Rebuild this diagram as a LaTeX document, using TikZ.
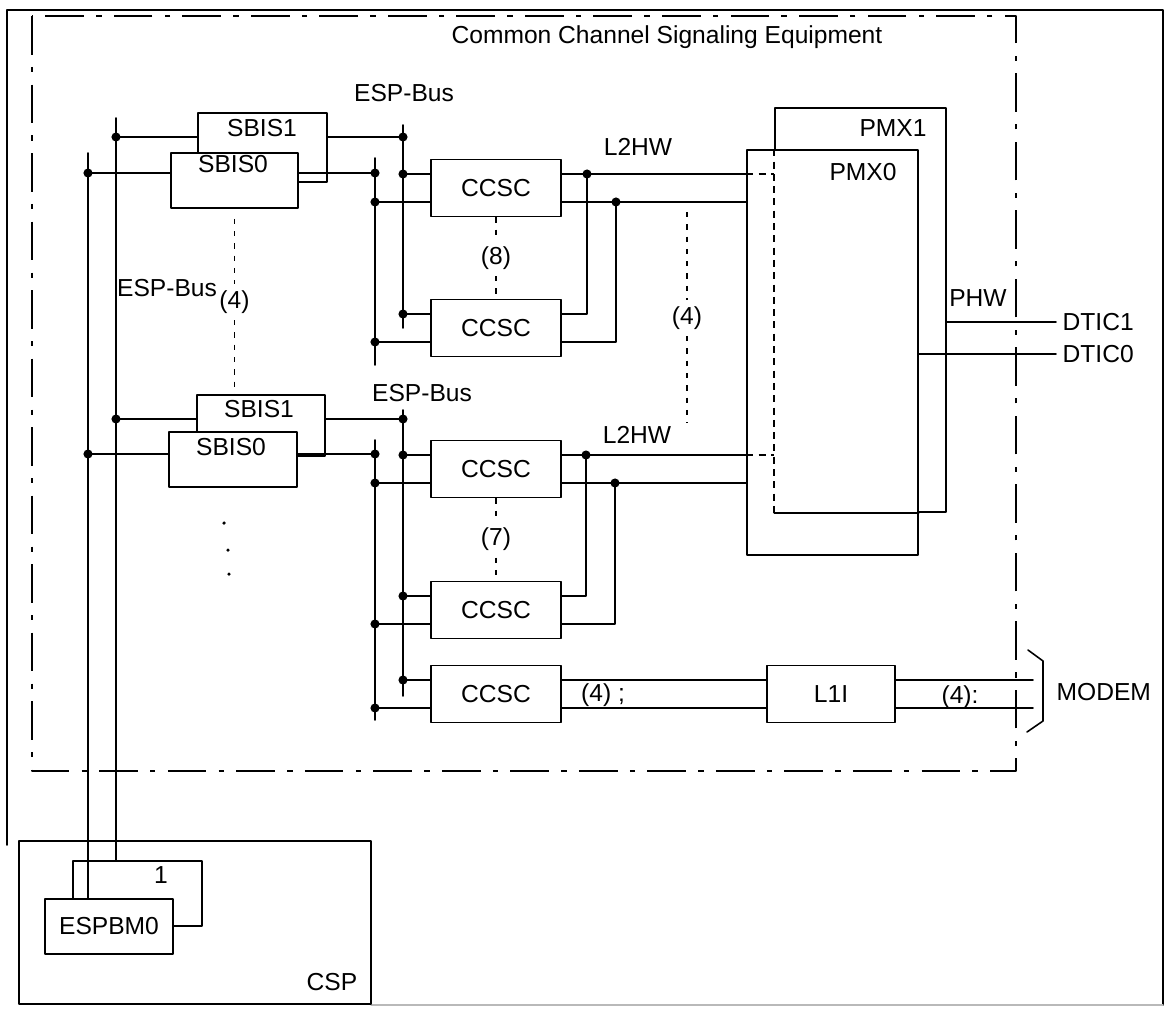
\documentclass[tikz,border=0pt]{standalone}
\usepackage{fontspec}
\setmainfont{Liberation Sans}
\usetikzlibrary{calc}

\begin{document}
\begin{tikzpicture}[x=0.02cm, y=-0.02cm, line width=0.9pt, line cap=round, line join=round,
    font=\fontsize{14}{16}\selectfont,
    blk/.style={draw, fill=white, inner sep=0pt},
    ccsc/.style={blk, minimum width=2.6cm, minimum height=1.14cm},
    dashdot/.style={line cap=butt, dash pattern=on 22pt off 7pt on 3pt off 7pt},
    dots/.style={line cap=butt, line width=1pt, dash pattern=on 3pt off 4pt},
    hidden/.style={line cap=butt, dash pattern=on 4pt off 3pt}]

\useasboundingbox (0,0) rectangle (1170,1008);
\def\r{2.6pt}
\def\io{0.28cm}

% Cornice esterna
\draw (7,845) -- (7,10) -- (1163,10) -- (1163,1005);
\draw[gray!55, line width=0.6pt] (1163,1005) -- (371,1005);

% Common Channel Signaling Equipment
\draw[dashdot] (32,16) rectangle (1016,771);
\node (title) at (667,37) {Common Channel Signaling Equipment};

% PMX1 dietro a PMX0
\node[blk, minimum width=3.42cm, minimum height=8.08cm] (pmx1) at (860.5,310) {};
\node[blk, minimum width=3.42cm, minimum height=8.1cm] (pmx0) at (832.5,352.5) {};
\draw[hidden] (pmx1.west |- pmx0.north) -- (pmx1.south west);
\draw (pmx1.south west) -- (pmx1.south west -| pmx0.east);
\node (tpmx1) at (893,128) {PMX1};
\node (tpmx0) at (863,172) {PMX0};

% PHW verso DTIC
\node (phw) at (978,298) {PHW};
\node[anchor=west] (dtic1) at (1056,322) {DTIC1};
\node[anchor=west] (dtic0) at (1056,354) {DTIC0};
\draw (dtic1.west -| pmx1.east) -- (dtic1.west);
\draw (dtic0.west -| pmx0.east) -- (dtic0.west);

% SBIS
\node[blk, minimum width=2.58cm, minimum height=1.38cm] (sbis1a) at (262.5,147.5) {};
\node[blk, minimum width=2.54cm, minimum height=1.1cm] (sbis0a) at (234.5,180.5) {};
\node (tsbis1a) at (262,128) {SBIS1};
\node (tsbis0a) at (233,164) {SBIS0};
\node[blk, minimum width=2.56cm, minimum height=1.22cm] (sbis1b) at (261,425.5) {};
\node[blk, minimum width=2.56cm, minimum height=1.1cm] (sbis0b) at (233,459.5) {};
\node (tsbis1b) at (259,409) {SBIS1};
\node (tsbis0b) at (231,447) {SBIS0};

% CCSC
\node[ccsc] (ccsc1) at (496,188) {CCSC};
\node[ccsc] (ccsc2) at (496,328) {CCSC};
\node[ccsc] (ccsc3) at (496,469) {CCSC};
\node[ccsc] (ccsc4) at (496,610) {CCSC};
\node[ccsc] (ccsc5) at (496,694) {CCSC};
\node[ccsc, minimum width=2.56cm] (l1i) at (831,694) {L1I};

% CSP
\node[blk, minimum width=7.04cm, minimum height=3.26cm] (csp) at (195,922.5) {};
\node (tcsp) at (332,982) {CSP};
\node[blk, minimum width=2.58cm, minimum height=1.3cm] (espbm1) at (137.5,893.5) {};
\node (tone) at (161,875) {1};
\node[blk, minimum width=2.56cm, minimum height=1.1cm] (espbm0) at (109,926.5) {ESPBM0};

% ESP-Bus principale
\coordinate (aTop) at (88,153);
\coordinate (bTop) at (116,118);
\coordinate (jA1) at (88,173);
\coordinate (jB1) at (116,137);
\coordinate (jA2) at (88,454);
\coordinate (jB2) at (116,419);
\draw (aTop) -- (aTop |- espbm0.north);
\draw (bTop) -- (bTop |- espbm1.north);

% ESP-Bus dei gruppi
\coordinate (d1t) at (403,125); \coordinate (d1b) at (403,328);
\coordinate (c1t) at (375,158); \coordinate (c1b) at (375,365);
\coordinate (d2t) at (403,410); \coordinate (d2b) at (403,696);
\coordinate (c2t) at (375,440); \coordinate (c2b) at (375,720);
\draw (d1t) -- (d1b);
\draw (c1t) -- (c1b);
\draw (d2t) -- (d2b);
\draw (c2t) -- (c2b);

% SBIS ai bus
\draw (jB1) -- (jB1 -| sbis1a.west);
\draw (jA1) -- (jA1 -| sbis0a.west);
\draw (jB1 -| sbis1a.east) -- (jB1 -| d1t) coordinate (jD1);
\draw (jA1 -| sbis0a.east) -- (jA1 -| c1t) coordinate (jC1);
\draw (jB2) -- (jB2 -| sbis1b.west);
\draw (jA2) -- (jA2 -| sbis0b.west);
\draw (jB2 -| sbis1b.east) -- (jB2 -| d2t) coordinate (jD2);
\draw (jA2 -| sbis0b.east) -- (jA2 -| c2t) coordinate (jC2);
\foreach \j in {jA1,jB1,jA2,jB2,jD1,jC1,jD2,jC2}
  \fill (\j) circle (\r);

% Ingressi CCSC
\foreach \k/\d/\c in {1/d1t/c1t, 2/d1t/c1t, 3/d2t/c2t, 4/d2t/c2t, 5/d2t/c2t} {
  \path ([yshift=\io]ccsc\k.west) coordinate (iu\k) ([yshift=-\io]ccsc\k.west) coordinate (il\k);
  \draw (iu\k) -- (iu\k -| \d) coordinate (u\k);
  \draw (il\k) -- (il\k -| \c) coordinate (l\k);
  \fill (u\k) circle (\r) (l\k) circle (\r);
}

% Uscite L2HW
\foreach \k in {1,...,5}
  \path ([yshift=\io]ccsc\k.east) coordinate (ou\k) ([yshift=-\io]ccsc\k.east) coordinate (ol\k);
\coordinate (x1u) at (587,0); \coordinate (x1l) at (616,0);
\coordinate (x2u) at (586,0); \coordinate (x2l) at (615,0);
\foreach \k/\m/\xu/\xl in {1/2/x1u/x1l, 3/4/x2u/x2l} {
  \draw (ou\k) -- (ou\k -| pmx0.west);
  \draw (ol\k) -- (ol\k -| pmx0.west);
  \draw[hidden] (ou\k -| pmx0.west) -- (ou\k -| pmx1.west);
  \draw (ou\k -| \xu) |- (ou\m);
  \draw (ol\k -| \xl) |- (ol\m);
  \fill (ou\k -| \xu) circle (\r) (ol\k -| \xl) circle (\r);
}

% CCSC - L1I - MODEM
\coordinate (mdm) at (1033,694);
\draw (ou5) -- (ou5 -| l1i.west);
\draw (ol5) -- (ol5 -| l1i.west);
\path ([yshift=\io]l1i.east) coordinate (mu) ([yshift=-\io]l1i.east) coordinate (ml);
\draw (mu) -- (mu -| mdm);
\draw (ml) -- (ml -| mdm);
\draw (1028,650) -- (1043,661) -- (1043,721) -- (1027,732);
\node[anchor=west] (modem) at (1050,692) {MODEM};
\node[inner sep=1pt] (n4a) at (603,695) {(4) ;};
\node[inner sep=1pt] (n4b) at (960,697) {(4):};

% Etichette
\node (espbus1) at (404,93) {ESP-Bus};
\node (espbus2) at (422,393) {ESP-Bus};
\node (l2hw1) at (638,147) {L2HW};
\node (l2hw2) at (637,435) {L2HW};
\node (espbus0) at (167,288) {ESP-Bus};

% Ripetizioni
\node (n4l) at (234.5,302) {(4)};
\draw[dots] ([yshift=-0.2cm]sbis0a.south) -- (n4l.north);
\draw[dots] (n4l.south) -- (n4l.south |- sbis1b.north);
\node (n8) at ($(ccsc1.south)!0.5!(ccsc2.north)$) {(8)};
\draw[dots] (ccsc1.south) -- (n8.north);
\draw[dots] (n8.south) -- (ccsc2.north);
\node (n7) at ($(ccsc3.south)!0.5!(ccsc4.north)$) {(7)};
\draw[dots] (ccsc3.south) -- (n7.north);
\draw[dots] (n7.south) -- (ccsc4.north);
\node (n4r) at (687,318) {(4)};
\coordinate (q4t) at (687,212);
\coordinate (q4b) at (687,423);
\draw[dots] (q4t) -- (n4r.north);
\draw[dots] (n4r.south) -- (q4b);
\fill (224,523) circle (1pt) (228,550) circle (1pt) (229,574) circle (1pt);

\end{tikzpicture}
\end{document}
